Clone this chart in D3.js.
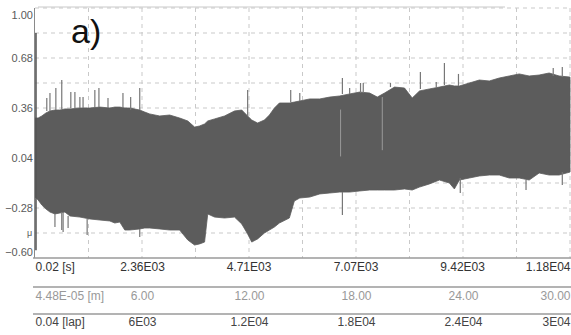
<!DOCTYPE html>
<html>
<head>
<meta charset="utf-8">
<script src="https://cdn.jsdelivr.net/npm/d3@7"></script>
<style>
  body { margin: 0; background: #fff; }
  svg { display: block; font-family: "Liberation Sans", Arial, sans-serif; }
</style>
</head>
<body>
<div id="chart"></div>
<script>
const times = [0, 70, 150, 240, 330, 440, 550, 660, 770, 990, 1210, 1430, 1650, 1760, 1870, 1980, 2090, 2310, 2420, 2530,
  2750, 2970, 3190, 3370, 3520, 3630, 3740, 3810, 3960, 4180, 4400, 4560, 4690, 4780, 4910, 5060, 5170, 5280, 5390, 5610,
  5720, 5840, 6060, 6280, 6500, 6720, 6940, 7160, 7380, 7550, 7710, 7930, 8150, 8320, 8480, 8700, 8920, 9140, 9250, 9360,
  9580, 9800, 10020, 10240, 10460, 10680, 10900, 11120, 11340, 11560, 11800];
const upper = [0.296, 0.296, 0.309, 0.328, 0.341, 0.347, 0.347, 0.354, 0.354, 0.36, 0.36, 0.366, 0.36, 0.366, 0.366, 0.36, 0.36, 0.347, 0.334, 0.322,
  0.309, 0.315, 0.296, 0.277, 0.238, 0.245, 0.258, 0.277, 0.290, 0.309, 0.341, 0.347, 0.309, 0.283, 0.264, 0.283, 0.315, 0.36, 0.392, 0.392,
  0.398, 0.405, 0.418, 0.418, 0.430, 0.437, 0.450, 0.462, 0.456, 0.430, 0.456, 0.494, 0.488, 0.424, 0.469, 0.482, 0.494, 0.507, 0.501, 0.501,
  0.520, 0.539, 0.533, 0.552, 0.565, 0.578, 0.565, 0.571, 0.584, 0.565, 0.558];
const lower = [-0.210, -0.229, -0.261, -0.286, -0.306, -0.318, -0.312, -0.306, -0.331, -0.338, -0.350, -0.357, -0.363, -0.376, -0.370, -0.421, -0.421, -0.414, -0.408, -0.408,
  -0.414, -0.421, -0.421, -0.485, -0.517, -0.510, -0.498, -0.318, -0.338, -0.344, -0.338, -0.382, -0.446, -0.498, -0.478, -0.440, -0.421, -0.402, -0.376, -0.344,
  -0.235, -0.216, -0.210, -0.190, -0.184, -0.178, -0.178, -0.171, -0.165, -0.165, -0.165, -0.165, -0.158, -0.165, -0.146, -0.126, -0.101, -0.120, -0.158, -0.101,
  -0.088, -0.075, -0.069, -0.069, -0.088, -0.088, -0.101, -0.056, -0.069, -0.069, -0.050];

// isolated peaks sticking out of the envelope
const spikeUpT = [260, 330, 460, 590, 790, 880, 990, 1060, 1320, 1410, 1610, 1940, 2110, 2310, 4690, 5640, 5840, 6780, 6940, 7180, 7240, 7840, 8500, 8850, 9030, 9340, 11430, 11630];
const spikeUpV = [0.424, 0.456, 0.488, 0.539, 0.462, 0.462, 0.430, 0.430, 0.475, 0.488, 0.424, 0.456, 0.430, 0.488, 0.475, 0.475, 0.456, 0.552, 0.488, 0.520, 0.520, 0.520, 0.590, 0.526, 0.648, 0.578, 0.616, 0.622];
const spikeDownT = [440, 590, 620, 730, 1150, 2310, 6780, 9380, 10830, 11630];
const spikeDownV = [-0.402, -0.421, -0.434, -0.408, -0.453, -0.466, -0.325, -0.184, -0.165, -0.133];
const startSpike = { t: 10, top: 0.84, bottom: -0.55 };
const gapT = [6740, 7660];
const gapTop = [0.35, 0.43];
const gapBottom = [0.05, 0.09];

// axis labels
const yTicks = [1.00, 0.68, 0.36, 0.04, -0.28, -0.60];
const secTicks = [0, 2360, 4710, 7070, 9420, 11800];
const secLabels = ['0.02 [s]', '2.36E03', '4.71E03', '7.07E03', '9.42E03', '1.18E04'];
const mTicks = [0, 6, 12, 18, 24, 30];
const mLabels = ['4.48E-05 [m]', '6.00', '12.00', '18.00', '24.00', '30.00'];
const lapTicks = [0, 6000, 12000, 18000, 24000, 30000];
const lapLabels = ['0.04 [lap]', '6E03', '1.2E04', '1.8E04', '2.4E04', '3E04'];

const width = 571, height = 335;
const plotLeft = 35, plotRight = 570, plotTop = 8, plotBottom = 258;

const svg = d3.select('#chart').append('svg').attr('width', width).attr('height', height);

const x = d3.scaleLinear().domain([0, 11800]).range([plotLeft, plotRight]);
const xm = d3.scaleLinear().domain([0, 30]).range([plotLeft, plotRight]);
const xl = d3.scaleLinear().domain([0, 30000]).range([plotLeft, plotRight]);
const y = d3.scaleLinear().domain([-0.6, 1.0]).range([plotBottom, plotTop]);

// faint band on top of the plot
svg.append('line')
  .attr('x1', 38).attr('x2', 505).attr('y1', 7).attr('y2', 7)
  .attr('stroke', '#e4e4e4').attr('stroke-width', 2);

// grid
const grid = svg.append('g').attr('stroke', '#c9c9c9').attr('stroke-dasharray', '4,4').attr('stroke-width', 1);
d3.range(1, 11).forEach(i => {
  const gx = x(i * 1180);
  grid.append('line').attr('x1', gx).attr('x2', gx).attr('y1', plotTop).attr('y2', plotBottom);
});
d3.range(0, 10).forEach(i => {
  const gy = y(1.0 - i * 0.16);
  grid.append('line').attr('x1', plotLeft).attr('x2', plotRight).attr('y1', gy).attr('y2', gy);
});

// signal envelope
const data = times.map((t, i) => ({ t: t, hi: upper[i], lo: lower[i] }));
const area = d3.area()
  .x(d => x(d.t))
  .y0(d => y(d.lo))
  .y1(d => y(d.hi));

svg.append('path')
  .datum(data)
  .attr('fill', '#5c5c5c')
  .attr('stroke', '#5c5c5c')
  .attr('stroke-width', 0.8)
  .attr('d', area);

const bisect = d3.bisector(d => d.t);
function envAt(t, key) {
  const i = Math.min(Math.max(bisect.left(data, t), 1), data.length - 1);
  return data[i][key];
}

svg.selectAll('.up')
  .data(spikeUpT)
  .enter().append('line')
  .attr('class', 'up')
  .attr('x1', d => x(d)).attr('x2', d => x(d))
  .attr('y1', d => y(envAt(d, 'hi')))
  .attr('y2', (d, i) => y(spikeUpV[i]))
  .attr('stroke', '#777').attr('stroke-width', 1.2);

svg.selectAll('.down')
  .data(spikeDownT)
  .enter().append('line')
  .attr('class', 'down')
  .attr('x1', d => x(d)).attr('x2', d => x(d))
  .attr('y1', d => y(envAt(d, 'lo')))
  .attr('y2', (d, i) => y(spikeDownV[i]))
  .attr('stroke', '#777').attr('stroke-width', 1.2);

svg.selectAll('.gap')
  .data(gapT)
  .enter().append('line')
  .attr('class', 'gap')
  .attr('x1', d => x(d)).attr('x2', d => x(d))
  .attr('y1', (d, i) => y(gapTop[i]))
  .attr('y2', (d, i) => y(gapBottom[i]))
  .attr('stroke', '#9a9a9a').attr('stroke-width', 1);

svg.append('line')
  .attr('x1', x(startSpike.t) + 0.5).attr('x2', x(startSpike.t) + 0.5)
  .attr('y1', y(startSpike.top)).attr('y2', y(startSpike.bottom))
  .attr('stroke', '#555').attr('stroke-width', 1.6);

// frame lines
svg.append('line')
  .attr('x1', 34.5).attr('x2', 34.5).attr('y1', plotTop).attr('y2', plotBottom)
  .attr('stroke', '#8a8a8a').attr('stroke-width', 1);
[plotBottom, 287, 314].forEach(ly => {
  svg.append('line')
    .attr('x1', 33).attr('x2', width).attr('y1', ly).attr('y2', ly)
    .attr('stroke', '#9a9a9a').attr('stroke-width', 1.4);
});

// y axis
const yAxis = svg.append('g')
  .attr('transform', `translate(${plotLeft},0)`)
  .call(d3.axisLeft(y).tickValues(yTicks).tickSize(0).tickPadding(2).tickFormat(d3.format('.2f')));
yAxis.select('.domain').remove();
yAxis.selectAll('text')
  .attr('font-family', '"Liberation Sans", Arial, sans-serif')
  .attr('font-size', 11)
  .attr('fill', '#5a5a5a')
  .attr('dy', (d, i) => i === 0 ? '0.95em' : (i === yTicks.length - 1 ? '-0.2em' : '0.32em'));

svg.append('text')
  .attr('x', 27).attr('y', 236)
  .attr('font-size', 9).attr('fill', '#555')
  .text('μ');

// three rows of x labels
function xRow(scale, ticks, labels, ty, color) {
  const g = svg.append('g')
    .attr('transform', `translate(0,${ty})`)
    .call(d3.axisBottom(scale).tickValues(ticks).tickSize(0).tickPadding(0)
      .tickFormat((d, i) => labels[i]));
  g.select('.domain').remove();
  g.selectAll('text')
    .attr('font-family', '"Liberation Sans", Arial, sans-serif')
    .attr('font-size', 12)
    .attr('fill', color)
    .attr('dy', '0.32em')
    .attr('y', 0)
    .attr('text-anchor', (d, i) => i === 0 ? 'start' : (i === ticks.length - 1 ? 'end' : 'middle'));
}
xRow(x, secTicks, secLabels, 267, '#333');
xRow(xm, mTicks, mLabels, 296, '#999');
xRow(xl, lapTicks, lapLabels, 322, '#444');

// panel label
svg.append('text')
  .attr('x', 71).attr('y', 43)
  .attr('font-size', 34)
  .attr('fill', '#111')
  .text('a)');
</script>
</body>
</html>
